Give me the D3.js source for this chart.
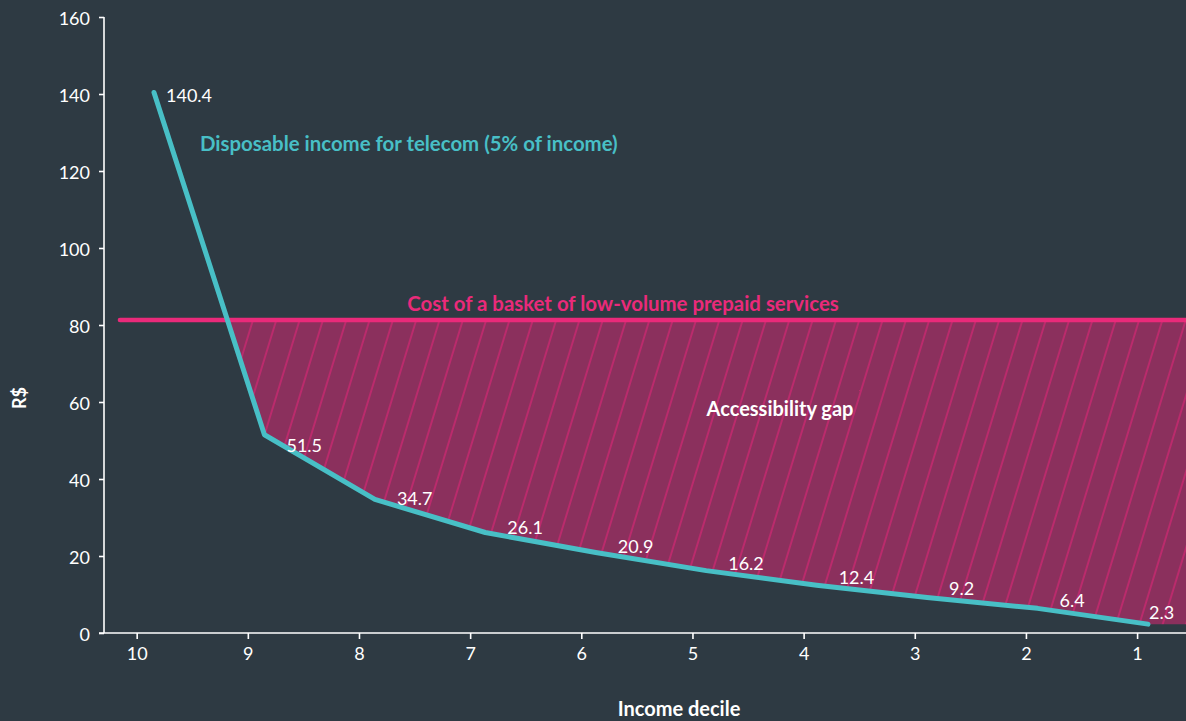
<!DOCTYPE html>
<html>
<head>
<meta charset="utf-8">
<script src="https://cdn.jsdelivr.net/npm/d3@7"></script>
<style>
  html, body { margin: 0; padding: 0; background: #2e3a43; }
  svg { display: block; }
  text { font-family: Lato, "Open Sans", sans-serif; }
</style>
</head>
<body>
<svg id="chart" width="1186" height="721"></svg>
<script>
// Income deciles, richest (10) to poorest (1)
const deciles = [10, 9, 8, 7, 6, 5, 4, 3, 2, 1];
// Disposable income for telecom per decile (R$, 5% of income)
const incomeValues = [140.4, 51.5, 34.7, 26.1, 20.9, 16.2, 12.4, 9.2, 6.4, 2.3];
// Cost of a basket of low-volume prepaid services (R$)
const basketCost = 81.3;
// Axis ticks
const yTicks = [0, 20, 40, 60, 80, 100, 120, 140, 160];
const xTicks = deciles;

const W = 1186, H = 721;
const C = {
  bg: "#2e3a43",
  teal: "#48bfc6",
  pink: "#ea2a7a",
  gapFill: "#8b305d",
  hatch: "#e8257a",
  white: "#ffffff"
};

const svg = d3.select("#chart");
svg.append("rect").attr("width", W).attr("height", H).attr("fill", C.bg);

// Scales
const y = d3.scaleLinear().domain([0, 160]).range([633, 17]);
// axis scale (ticks) and the scale the income line is plotted on
const x = d3.scaleLinear().domain([10.294, 0.56]).range([104, 1186]);
const xLine = d3.scaleLinear().domain([10, 1]).range([154, 1148]);

const data = deciles.map((d, i) => ({ decile: d, value: incomeValues[i] }));

// Hatch pattern for the accessibility gap
const defs = svg.append("defs");
const pat = defs.append("pattern")
  .attr("id", "hatch")
  .attr("patternUnits", "userSpaceOnUse")
  .attr("width", 22.3).attr("height", 40)
  .attr("patternTransform", "rotate(17)");
pat.append("rect").attr("width", 22.3).attr("height", 40).attr("fill", C.gapFill);
pat.append("line")
  .attr("x1", 1).attr("y1", 0).attr("x2", 1).attr("y2", 40)
  .attr("stroke", C.hatch).attr("stroke-width", 1);

defs.append("clipPath").attr("id", "belowCost")
  .append("rect")
  .attr("x", 0).attr("y", y(basketCost))
  .attr("width", W).attr("height", y(0) - y(basketCost));

// Gap area: between the basket cost and the income line, carried on to the right edge
const last = data[data.length - 1];
const gapData = data.map(d => ({ px: xLine(d.decile), value: d.value }))
  .concat([{ px: x.range()[1], value: last.value }]);

svg.append("path")
  .datum(gapData)
  .attr("clip-path", "url(#belowCost)")
  .attr("fill", "url(#hatch)")
  .attr("d", d3.area()
    .x(d => d.px)
    .y0(y(basketCost))
    .y1(d => y(d.value)));

// Axes
const axisG = svg.append("g").attr("class", "axes");
const yAxis = axisG.append("g")
  .attr("transform", `translate(${x.range()[0]},0)`)
  .call(d3.axisLeft(y).tickValues(yTicks).tickSize(5).tickPadding(9));
const xAxis = axisG.append("g")
  .attr("transform", `translate(0,${y(0)})`)
  .call(d3.axisBottom(x).tickValues(xTicks).tickSize(6).tickPadding(8).tickSizeOuter(0));

[yAxis, xAxis].forEach(g => {
  g.select(".domain").attr("stroke", C.white).attr("stroke-width", 1.6);
  g.selectAll(".tick line").attr("stroke", C.white).attr("stroke-width", 1.6);
  g.selectAll(".tick text")
    .attr("fill", C.white)
    .style("font-size", "18px")
    .style("font-family", "Lato, sans-serif");
});
yAxis.select(".domain").attr("d", `M0,${y(160)}V${y(0)}`);
yAxis.selectAll(".tick text").attr("dy", "0.42em");
xAxis.select(".domain").attr("d", `M${x.range()[0] - 5},0H${x.range()[1]}`);

// Axis titles
svg.append("text")
  .attr("transform", `translate(26,398) rotate(-90)`)
  .attr("text-anchor", "middle")
  .attr("fill", C.white)
  .style("font-size", "18px").style("font-weight", 700)
  .text("R$");

svg.append("text")
  .attr("x", 679).attr("y", 716)
  .attr("text-anchor", "middle")
  .attr("fill", C.white)
  .style("font-size", "20px").style("font-weight", 700)
  .text("Income decile");

// Basket cost line
svg.append("line")
  .attr("x1", x(10.15)).attr("x2", x.range()[1] + 4)
  .attr("y1", y(basketCost)).attr("y2", y(basketCost))
  .attr("stroke", C.pink).attr("stroke-width", 4.6)
  .attr("stroke-linecap", "round");

svg.append("text")
  .attr("x", 623).attr("y", 311)
  .attr("text-anchor", "middle")
  .attr("fill", C.pink)
  .style("font-size", "20.4px").style("font-weight", 700)
  .text("Cost of a basket of low-volume prepaid services");

// Income line
const line = d3.line().x(d => xLine(d.decile)).y(d => y(d.value));
svg.append("path")
  .datum(data)
  .attr("fill", "none")
  .attr("stroke", C.teal)
  .attr("stroke-width", 5)
  .attr("stroke-linejoin", "round")
  .attr("stroke-linecap", "round")
  .attr("d", line);

svg.append("text")
  .attr("x", 200).attr("y", 150.5)
  .attr("fill", C.teal)
  .style("font-size", "20.4px").style("font-weight", 700)
  .text("Disposable income for telecom (5% of income)");

svg.append("text")
  .attr("x", 780).attr("y", 416)
  .attr("text-anchor", "middle")
  .attr("fill", C.white)
  .style("font-size", "20px").style("font-weight", 700)
  .text("Accessibility gap");

// Value labels: first one beside its vertex, the middle ones riding above
// the following segment, the last one above the end of the line
const labels = svg.append("g").attr("class", "value-labels");
data.forEach((d, i) => {
  const px = xLine(d.decile), py = y(d.value);
  const t = labels.append("text")
    .attr("fill", C.white)
    .style("font-size", "18px")
    .text(d3.format(".1f")(d.value));
  const w = t.node().getComputedTextLength();
  if (i === 0) {
    t.attr("x", px + 12).attr("y", py + 10);
  } else if (i === data.length - 1) {
    t.attr("x", px + 1).attr("y", py - 5);
  } else {
    const next = data[i + 1];
    const cx = px + 22 + w / 2;
    const seg = d3.scaleLinear()
      .domain([px, xLine(next.decile)])
      .range([d.value, next.value]);
    t.attr("x", px + 22).attr("y", y(seg(cx)) - 6);
  }
});
</script>
</body>
</html>
